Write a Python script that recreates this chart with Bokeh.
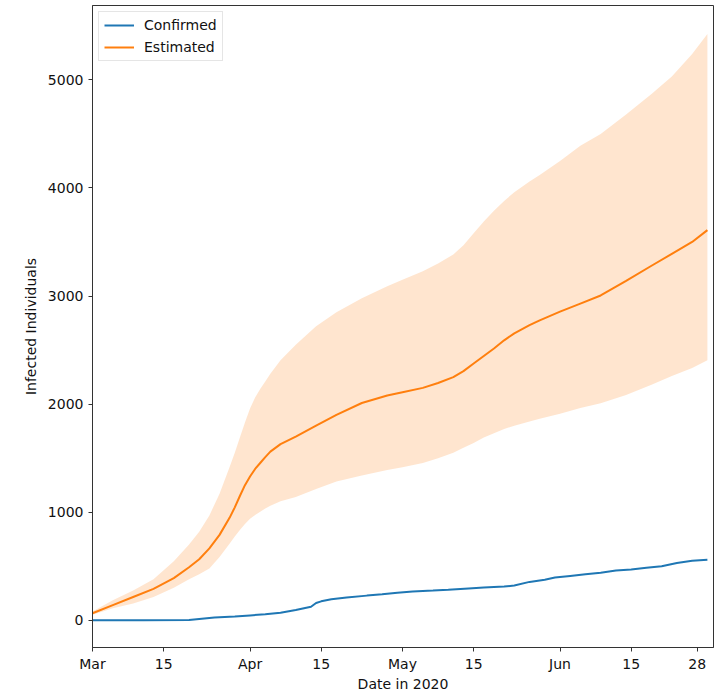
from bokeh.plotting import figure
from bokeh.models import Range1d, FixedTicker, Legend, LegendItem
from bokeh.embed import file_html
from bokeh.resources import INLINE

# Days counted from 2020-03-01
est_days = [0, 4, 8, 12, 16, 19, 21, 23, 25, 27, 28, 29, 30, 31, 32, 33, 34, 35, 37, 40,
            44, 48, 53, 58, 61, 65, 68, 71, 73, 75, 77, 79, 81, 83, 86, 88, 92, 96, 100,
            105, 110, 114, 118, 121]
est_mid = [65, 140, 215, 290, 390, 490, 565, 665, 790, 950, 1045, 1150, 1250, 1330, 1400,
           1455, 1510, 1560, 1630, 1700, 1800, 1900, 2010, 2080, 2110, 2150, 2195, 2250,
           2305, 2375, 2445, 2515, 2590, 2655, 2730, 2775, 2855, 2930, 3005, 3140, 3280,
           3390, 3500, 3610]
est_upper = [80, 185, 275, 380, 545, 700, 820, 970, 1170, 1420, 1550, 1690, 1830, 1960,
             2060, 2140, 2210, 2280, 2405, 2550, 2720, 2850, 2980, 3090, 3150, 3230, 3300,
             3385, 3470, 3580, 3690, 3790, 3880, 3960, 4060, 4120, 4250, 4390, 4500, 4680,
             4870, 5030, 5240, 5425]
est_lower = [50, 110, 155, 215, 300, 380, 425, 480, 585, 710, 775, 835, 890, 940, 975,
             1005, 1035, 1060, 1100, 1140, 1215, 1285, 1340, 1390, 1415, 1455, 1500, 1550,
             1595, 1640, 1690, 1730, 1770, 1800, 1840, 1865, 1910, 1965, 2008, 2085, 2180,
             2260, 2335, 2406]

conf_days = [0, 10, 19, 21, 24, 28, 31, 34, 37, 40, 43, 44, 45, 47, 50, 54, 57, 60, 63, 67,
             70, 74, 77, 81, 83, 86, 89, 91, 94, 97, 100, 103, 106, 109, 112, 115, 118, 121]
conf_vals = [0, 0, 3, 12, 25, 35, 45, 55, 70, 95, 125, 160, 175, 195, 210, 228, 240, 255,
             265, 275, 283, 295, 303, 312, 322, 355, 375, 395, 410, 425, 440, 460, 470, 485,
             500, 530, 550, 560]

x_tick_days = [0, 14, 31, 45, 61, 75, 92, 106, 119]
x_tick_labels = ["Mar", "15", "Apr", "15", "May", "15", "Jun", "15", "28"]
y_ticks = [0, 1000, 2000, 3000, 4000, 5000]

BLUE = "#1f77b4"
ORANGE = "#ff7f0e"
FONT = "DejaVu Sans"

p = figure(width=720, height=694, output_backend="svg", toolbar_location=None,
           x_range=Range1d(0, 122.2), y_range=Range1d(-252, 5688),
           min_border_left=92, min_border_right=7, min_border_top=5, min_border_bottom=46)

p.varea(x=est_days, y1=est_lower, y2=est_upper, fill_color=ORANGE, fill_alpha=0.2)
r_conf = p.line(conf_days, conf_vals, line_color=BLUE, line_width=2)
r_est = p.line(est_days, est_mid, line_color=ORANGE, line_width=2)

p.xgrid.visible = False
p.ygrid.visible = False
p.outline_line_color = "#333333"
p.outline_line_width = 1
p.background_fill_color = "white"
p.border_fill_color = "white"

p.xaxis.ticker = FixedTicker(ticks=x_tick_days)
p.xaxis.major_label_overrides = {d: l for d, l in zip(x_tick_days, x_tick_labels)}
p.yaxis.ticker = FixedTicker(ticks=y_ticks)

for ax in (p.xaxis[0], p.yaxis[0]):
    ax.axis_line_color = "#333333"
    ax.major_tick_line_color = "#333333"
    ax.major_tick_out = 4
    ax.major_tick_in = 0
    ax.minor_tick_line_color = None
    ax.major_label_text_font = FONT
    ax.major_label_text_font_size = "14px"
    ax.major_label_text_color = "#111111"
    ax.axis_label_text_font = FONT
    ax.axis_label_text_font_size = "14px"
    ax.axis_label_text_font_style = "normal"
    ax.axis_label_text_color = "#111111"

p.xaxis.axis_label = "Date in 2020"
p.yaxis.axis_label = "Infected Individuals"
p.xaxis.major_label_standoff = 4
p.xaxis.axis_label_standoff = 1
p.yaxis.major_label_standoff = 5
p.yaxis.axis_label_standoff = 6

legend = Legend(items=[LegendItem(label="Confirmed", renderers=[r_conf]),
                       LegendItem(label="Estimated", renderers=[r_est])],
                location="top_left")
legend.label_text_font = FONT
legend.label_text_font_size = "14px"
legend.label_text_color = "#111111"
legend.border_line_color = "#cccccc"
legend.border_line_width = 1
legend.background_fill_alpha = 0.9
legend.glyph_width = 30
legend.glyph_height = 14
legend.label_height = 14
legend.spacing = 6
legend.padding = 5
legend.margin = 6
legend.label_standoff = 10
p.add_layout(legend)

open("out.html", "w").write(file_html(p, INLINE))
